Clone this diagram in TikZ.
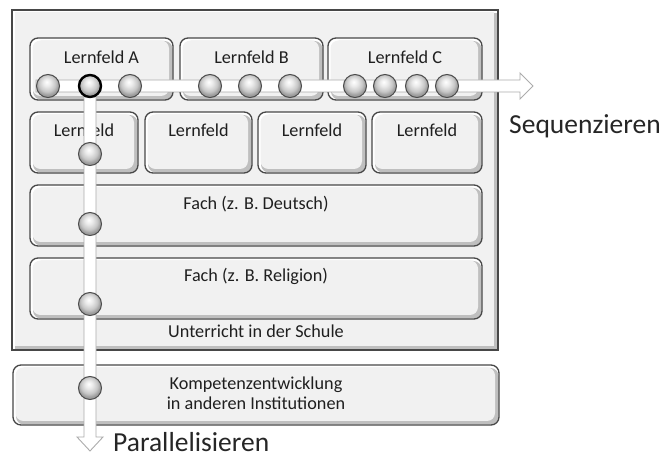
\documentclass[tikz,border=0pt]{standalone}
\usepackage{fontspec}
\setmainfont{Carlito}
\usetikzlibrary{shadings}
\pgfdeclareradialshading{glassball}{\pgfpoint{-3bp}{9bp}}{%
  color(0bp)=(white); color(8bp)=(white!92!black); color(18bp)=(white!78!black);
  color(24bp)=(white!62!black); color(50bp)=(white!55!black)}
\newcommand\bevbox[5]{%
  \fill[white, rounded corners=#5] (#1,#2) rectangle (#3,#4);
  \fill[gray!50, rounded corners=#5] (#1+3,#2+3) rectangle (#3-0.5,#4-0.5);
  \fill[gray!11, rounded corners=#5] (#1+2.5,#2+2.5) rectangle (#3-4,#4-4);
  \draw[boxline, rounded corners=#5] (#1,#2) rectangle (#3,#4);
}
\tikzset{
  boxline/.style={draw=black!72, line width=1.3pt},
  lbl/.style={font=\fontsize{18.2}{21}\selectfont, text=black!88, inner sep=0pt, anchor=base},
  big/.style={font=\fontsize{27.5}{32}\selectfont, text=black!85, inner sep=0pt, anchor=base west},
  arrowst/.style={fill=white, draw=gray!65, line width=0.9pt, line join=miter},
  ball/.style={circle, minimum size=23pt, inner sep=0pt, shading=glassball, draw=black!70, line width=1pt},
  bold ball/.style={ball, draw=black, line width=2.4pt, minimum size=22pt},
}
\begin{document}
\begin{tikzpicture}[x=1pt,y=-1pt]
\useasboundingbox (0,0) rectangle (665,457);
% outer frame
\bevbox{12}{10}{498}{350}{0pt}
% row 1
\bevbox{30}{38}{173}{100}{8pt}
\bevbox{180}{38}{323}{100}{8pt}
\bevbox{328}{38}{482}{100}{8pt}
% row 2
\bevbox{30}{112}{138}{173}{8pt}
\bevbox{145}{112}{252}{173}{8pt}
\bevbox{258}{112}{366}{173}{8pt}
\bevbox{372}{112}{482}{173}{8pt}
% subjects
\bevbox{30}{185}{482}{246}{8pt}
\bevbox{30}{258}{482}{319}{8pt}
% other institutions
\bevbox{13}{365}{499}{425}{8pt}

% labels
\node[lbl] (lfA) at (101.5,64) {Lernfeld A};
\node[lbl] (lfB) at (251.5,64) {Lernfeld B};
\node[lbl] (lfC) at (405,64) {Lernfeld C};
\node[lbl] (lf1) at (84,137) {Lernfeld};
\node[lbl] (lf2) at (198.5,137) {Lernfeld};
\node[lbl] (lf3) at (312,137) {Lernfeld};
\node[lbl] (lf4) at (427,137) {Lernfeld};
\node[lbl] (fd) at (256,210) {Fach (z. B. Deutsch)};
\node[lbl] (fr) at (256,282) {Fach (z. B. Religion)};
\node[lbl] (us) at (256,338) {Unterricht in der Schule};
\node[lbl, align=center, anchor=center] (ki) at (256,393) {Kompetenzentwicklung\\[-1pt]in anderen Institutionen};

% arrows
\coordinate (hs) at (36,86);
\coordinate (ht) at (533,86);
\coordinate (vs) at (90,92);
\coordinate (vt) at (90,451);
\filldraw[arrowst] (36,80) -- (520,80) -- (520,73) -- (ht) -- (520,99) -- (520,92) -- (36,92) -- cycle;
\fill[white] (84,86) rectangle (96,437);
\filldraw[arrowst] (84,92) -- (84,437) -- (77,437) -- (vt) -- (103,437) -- (96,437) -- (96,92);

% balls on the horizontal arrow
\node[ball] (h1) at (48,86) {};
\node[ball] (h3) at (130,86) {};
\node[ball] (h4) at (210,86) {};
\node[ball] (h5) at (250,86) {};
\node[ball] (h6) at (290,86) {};
\node[ball] (h7) at (355,86) {};
\node[ball] (h8) at (385,86) {};
\node[ball] (h9) at (417,86) {};
\node[ball] (h10) at (447,86) {};
% balls on the vertical arrow
\node[ball] (v1) at (90,154) {};
\node[ball] (v2) at (90,224) {};
\node[ball] (v3) at (90,304) {};
\node[ball] (v4) at (90,388) {};
\node[bold ball] (h2) at (90,86) {};

% arrow labels
\node[big] (seq) at (509,134) {Sequenzieren};
\node[big] (par) at (113,452) {Parallelisieren};
\end{tikzpicture}
\end{document}
